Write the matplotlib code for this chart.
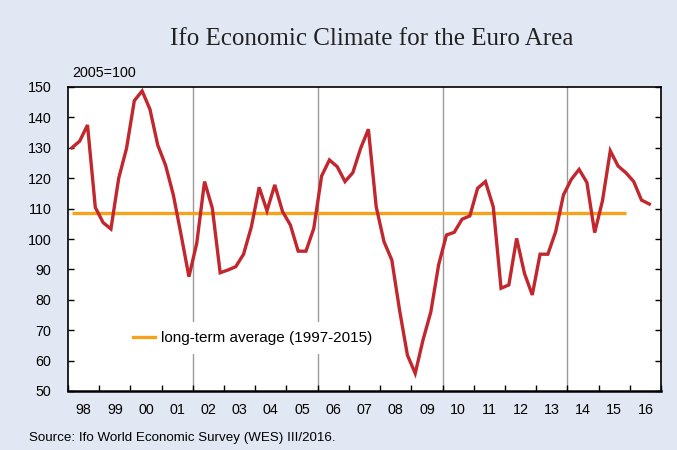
import numpy as np
import matplotlib
matplotlib.use("Agg")
import matplotlib.pyplot as plt
from matplotlib.lines import Line2D

# ---- data ----
start_year = 1998
year_labels = ["98", "99", "00", "01", "02", "03", "04", "05", "06", "07",
               "08", "09", "10", "11", "12", "13", "14", "15", "16"]
climate = [
    130.0, 132.2, 137.5, 110.4,   # 1998
    105.4, 103.3, 120.0, 129.8,   # 1999
    145.5, 148.7, 142.7, 130.9,   # 2000
    124.3, 114.5, 101.3, 87.6,    # 2001
    98.6, 118.9, 110.1, 88.9,     # 2002
    89.8, 90.9, 95.0, 104.0,      # 2003
    117.0, 109.3, 117.8, 109.0,   # 2004
    104.6, 96.0, 96.0, 103.5,     # 2005
    120.7, 126.0, 123.8, 118.9,   # 2006
    121.8, 129.8, 136.1, 110.6,   # 2007
    99.1, 93.1, 76.5, 61.8,       # 2008
    55.8, 66.8, 76.0, 91.5,       # 2009
    101.3, 102.2, 106.5, 107.6,   # 2010
    116.7, 118.9, 110.6, 83.8,    # 2011
    84.9, 100.2, 88.7, 81.6,      # 2012
    95.0, 95.0, 102.4, 114.5,     # 2013
    119.6, 122.9, 118.6, 102.1,   # 2014
    112.6, 129.0, 124.0, 121.8,   # 2015
    118.9, 112.8, 111.5,          # 2016
]
long_term_avg = 108.7
avg_quarters = 72  # 1998Q1 .. 2015Q4
gridline_years = [2002, 2006, 2010, 2014]
yticks = [50, 60, 70, 80, 90, 100, 110, 120, 130, 140, 150]

# ---- figure ----
bg = "#E1E7F3"
fig = plt.figure(figsize=(6.77, 4.5), dpi=100, facecolor=bg)
ax = fig.add_axes([68/677, 1-391/450, (661-68)/677, (391-87)/450])
ax.set_facecolor("white")

x = start_year + (np.arange(len(climate)) + 0.5) / 4.0
xa = x[:avg_quarters]

for gy in gridline_years:
    ax.axvline(gy, color="#9A9A9A", lw=1.0, zorder=1)

ax.plot(xa, [long_term_avg]*len(xa), color="#F7A21B", lw=2.4,
        solid_capstyle="butt", zorder=2)
ax.plot(x, climate, color="#C1272D", lw=2.4, zorder=3, solid_joinstyle="miter")

n_years = len(year_labels)
ax.set_xlim(start_year, start_year + n_years)
ax.set_ylim(50, 150)

ax.set_yticks(yticks)
ax.set_yticklabels([str(v) for v in yticks], fontsize=10.3, family="Liberation Sans")
ax.tick_params(axis="y", direction="in", length=4, width=1, right=True,
               labelright=False, pad=12, color="black")

# x: year-boundary ticks (minor) and centered labels (major, no ticks)
ax.set_xticks(np.arange(start_year, start_year + n_years + 1), minor=True)
ax.set_xticks(np.arange(n_years) + start_year + 0.5)
ax.set_xticklabels(year_labels, fontsize=10.3, family="Liberation Sans")
ax.tick_params(axis="x", which="major", length=0, pad=9)
ax.tick_params(axis="x", which="minor", direction="in", length=4, width=1)

for s in ax.spines.values():
    s.set_color("black")
    s.set_linewidth(1.2)
ax.spines["bottom"].set_linewidth(1.8)

leg = ax.legend([Line2D([0], [0], color="#F7A21B", lw=2.4)],
                ["long-term average (1997-2015)"],
                loc="center left", bbox_to_anchor=((124-68)/593, (391-338)/304),
                frameon=True, fancybox=False, framealpha=1, facecolor="white",
                edgecolor="none", handlelength=1.4, handletextpad=0.45,
                borderpad=0.6, borderaxespad=0,
                prop={"family": "Liberation Sans", "size": 11})
leg.set_zorder(5)

fig.text(372/677, 1-39/450, "Ifo Economic Climate for the Euro Area",
         ha="center", va="center", fontsize=18, family="Liberation Serif",
         color="#222222")
fig.text(72/677, 1-73/450, "2005=100", ha="left", va="center", fontsize=10.3,
         family="Liberation Sans")
fig.text(29/677, 1-438/450, "Source: Ifo World Economic Survey (WES) III/2016.",
         ha="left", va="center", fontsize=9.6, family="Liberation Sans")

fig.savefig("out.png", dpi=100, facecolor=bg)
